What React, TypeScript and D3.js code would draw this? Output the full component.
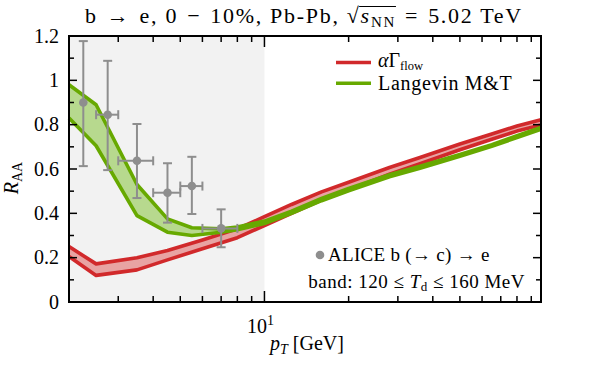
import { useEffect, useRef } from "react";
import * as d3 from "d3";

// alpha-Gamma_flow band (red)
const redPt = [2, 2.5, 3.5, 4.5, 6, 8, 10, 12.5, 16, 20, 28, 36, 50, 65, 80, 97.5];
const redHi = [0.25, 0.172, 0.2, 0.232, 0.28, 0.33, 0.385, 0.44, 0.497, 0.54, 0.607, 0.652, 0.713, 0.758, 0.794, 0.822];
const redLo = [0.205, 0.12, 0.145, 0.19, 0.24, 0.29, 0.345, 0.4, 0.46, 0.505, 0.577, 0.624, 0.687, 0.734, 0.771, 0.798];

// Langevin M&T band (green)
const grnPt = [2, 2.5, 3.5, 4.5, 5.5, 7, 8, 10, 12.5, 16, 20, 28, 36, 50, 65, 80, 97.5];
const grnHi = [0.98, 0.89, 0.53, 0.375, 0.335, 0.33, 0.338, 0.365, 0.41, 0.467, 0.512, 0.574, 0.612, 0.665, 0.71, 0.75, 0.787];
const grnLo = [0.83, 0.705, 0.39, 0.315, 0.3, 0.315, 0.326, 0.354, 0.4, 0.457, 0.502, 0.565, 0.603, 0.657, 0.702, 0.742, 0.779];

// ALICE b(->c)->e
const alicePt = [2.25, 2.75, 3.5, 4.5, 5.5, 7];
const alicePtLo = [2.25, 2.5, 3, 4, 5, 6];
const alicePtHi = [2.25, 3, 4, 5, 6, 8];
const aliceR = [0.9, 0.845, 0.637, 0.493, 0.523, 0.332];
const aliceHi = [1.177, 1.088, 0.803, 0.626, 0.655, 0.418];
const aliceLo = [0.613, 0.595, 0.469, 0.358, 0.397, 0.247];

const yTicks = [0, 0.2, 0.4, 0.6, 0.8, 1, 1.2];
const yTickLabels = ["0", "0.2", "0.4", "0.6", "0.8", "1", "1.2"];
const yMinor = [0.1, 0.3, 0.5, 0.7, 0.9, 1.1];
const xMinor = [3, 4, 5, 6, 7, 8, 9, 20, 30, 40, 50, 60, 70, 80, 90];
const xMajor = [10];

const RED = "#d1292b";
const PINK = "#e8a3a3";
const GREEN = "#67a900";
const LGREEN = "#b7d98e";
const GRAY = "#8e8e8e";
const FONT = "'Liberation Serif', serif";

export default function App() {
  const titleRef = useRef<SVGTextElement>(null);
  const barRef = useRef<SVGLineElement>(null);

  const left = 69, right = 541, top = 36, bottom = 302;
  const x = d3.scaleLog().domain([2, 97.5]).range([left, right]);
  const y = d3.scaleLinear().domain([0, 1.2]).range([bottom, top]);

  const band = (pt: number[], hi: number[], lo: number[]) => {
    const rows = pt.map((p, i) => ({ p, hi: hi[i], lo: lo[i] }));
    const area = d3.area<any>().x(d => x(d.p)).y0(d => y(d.lo)).y1(d => y(d.hi))(rows) || "";
    const lineHi = d3.line<any>().x(d => x(d.p)).y(d => y(d.hi))(rows) || "";
    const lineLo = d3.line<any>().x(d => x(d.p)).y(d => y(d.lo))(rows) || "";
    return { area, lineHi, lineLo };
  };
  const red = band(redPt, redHi, redLo);
  const grn = band(grnPt, grnHi, grnLo);

  const pre = "b\u2004→\u2004e, 0\u2004−\u200410%, Pb-Pb, ";

  useEffect(() => {
    const t = titleRef.current;
    const b = barRef.current;
    if (!t || !b) return;
    const i0 = pre.length;
    const s = t.getStartPositionOfChar(i0);
    const e0 = t.getEndPositionOfChar(i0);
    const e = t.getEndPositionOfChar(i0 + 3);
    d3.select(b)
      .attr("x1", e0.x - 1.5)
      .attr("x2", e.x)
      .attr("y1", s.y - 16.5)
      .attr("y2", s.y - 16.5);
  }, []);

  return (
    <svg width={604} height={365} style={{ position: "absolute", left: 0, top: 0, background: "#fff" }}>
      <g style={{ fontFamily: FONT }}>
      <rect x={0} y={0} width={604} height={365} fill="#fff" />
      <rect x={x(2)} y={top} width={x(10) - x(2)} height={bottom - top} fill="#f2f2f2" />

      {/* bands */}
      <path d={red.area} fill={PINK} />
      <path d={red.lineHi} fill="none" stroke={RED} strokeWidth={3.6} strokeLinejoin="round" />
      <path d={red.lineLo} fill="none" stroke={RED} strokeWidth={3.6} strokeLinejoin="round" />
      <path d={grn.area} fill={LGREEN} />
      <path d={grn.lineHi} fill="none" stroke={GREEN} strokeWidth={3.6} strokeLinejoin="round" />
      <path d={grn.lineLo} fill="none" stroke={GREEN} strokeWidth={3.6} strokeLinejoin="round" />

      {/* ALICE points */}
      {alicePt.map((p, i) => (
        <g key={i} stroke={GRAY} strokeWidth={2}>
          <line x1={x(p)} x2={x(p)} y1={y(aliceLo[i])} y2={y(aliceHi[i])} />
          <line x1={x(p) - 4.5} x2={x(p) + 4.5} y1={y(aliceLo[i])} y2={y(aliceLo[i])} />
          <line x1={x(p) - 4.5} x2={x(p) + 4.5} y1={y(aliceHi[i])} y2={y(aliceHi[i])} />
          {alicePtHi[i] > alicePtLo[i] && (
            <g>
              <line x1={x(alicePtLo[i])} x2={x(alicePtHi[i])} y1={y(aliceR[i])} y2={y(aliceR[i])} />
              <line x1={x(alicePtLo[i])} x2={x(alicePtLo[i])} y1={y(aliceR[i]) - 4.5} y2={y(aliceR[i]) + 4.5} />
              <line x1={x(alicePtHi[i])} x2={x(alicePtHi[i])} y1={y(aliceR[i]) - 4.5} y2={y(aliceR[i]) + 4.5} />
            </g>
          )}
          <circle cx={x(p)} cy={y(aliceR[i])} r={4.3} fill={GRAY} stroke="none" />
        </g>
      ))}

      {/* ticks */}
      <g stroke="#000" strokeWidth={1.5}>
        {yTicks.map(v => (
          <g key={"y" + v}>
            <line x1={left} x2={left + 8} y1={y(v)} y2={y(v)} />
            <line x1={right} x2={right - 8} y1={y(v)} y2={y(v)} />
          </g>
        ))}
        {yMinor.map(v => (
          <g key={"ym" + v}>
            <line x1={left} x2={left + 5} y1={y(v)} y2={y(v)} />
            <line x1={right} x2={right - 5} y1={y(v)} y2={y(v)} />
          </g>
        ))}
        {xMinor.map(v => (
          <g key={"xm" + v}>
            <line x1={x(v)} x2={x(v)} y1={bottom} y2={bottom - 6} />
            <line x1={x(v)} x2={x(v)} y1={top} y2={top + 6} />
          </g>
        ))}
        {xMajor.map(v => (
          <g key={"xM" + v}>
            <line x1={x(v)} x2={x(v)} y1={bottom} y2={bottom - 11} />
            <line x1={x(v)} x2={x(v)} y1={top} y2={top + 11} />
          </g>
        ))}
      </g>
      <rect x={left} y={top} width={right - left} height={bottom - top} fill="none" stroke="#000" strokeWidth={2} />

      {/* tick labels */}
      {yTicks.map((v, i) => (
        <text key={"yl" + v} x={left - 10} y={y(v) + 6.5} fontSize={20} textAnchor="end">{yTickLabels[i]}</text>
      ))}
      {xMajor.map(v => (
        <text key={"xl" + v} x={x(v) - 4} y={333} fontSize={20} textAnchor="middle">
          10<tspan fontSize={14} dy={-8}>1</tspan>
        </text>
      ))}

      {/* axis titles */}
      <text x={307} y={350} fontSize={20} textAnchor="middle">
        <tspan fontStyle="italic">p</tspan><tspan fontStyle="italic" fontSize={14} dy={4}>T</tspan>
        <tspan dy={-4}> [GeV]</tspan>
      </text>
      <text transform="translate(18,178) rotate(-90)" fontSize={20} textAnchor="middle">
        <tspan fontStyle="italic">R</tspan><tspan fontSize={14} dy={4}>AA</tspan>
      </text>

      {/* title */}
      <text ref={titleRef} x={304} y={23} fontSize={22} textAnchor="middle" letterSpacing={1.7}>
        {pre}√<tspan fontStyle="italic">s</tspan><tspan fontSize={15} dy={4}>NN</tspan>
        <tspan dy={-4}>{"\u2004=\u20045.02 TeV"}</tspan>
      </text>
      <line ref={barRef} stroke="#000" strokeWidth={1} />

      {/* legend */}
      <line x1={336} x2={371} y1={62.5} y2={62.5} stroke={RED} strokeWidth={3.6} />
      <text x={378} y={67} fontSize={20}>
        <tspan fontStyle="italic">α</tspan>Γ<tspan fontSize={12.5} dy={2.5}>flow</tspan>
      </text>
      <line x1={336} x2={371} y1={83.3} y2={83.3} stroke={GREEN} strokeWidth={3.6} />
      <text x={378} y={90} fontSize={20} letterSpacing={0.7}>Langevin M&amp;T</text>

      {/* annotations */}
      <circle cx={320} cy={255} r={4.3} fill={GRAY} />
      <text x={328} y={261} fontSize={19} letterSpacing={0.3}>ALICE b (→ c) → e</text>
      <text x={525} y={288} fontSize={19} textAnchor="end" letterSpacing={0.5}>
        band: 120 ≤ <tspan fontStyle="italic">T</tspan><tspan fontSize={13} dy={3}>d</tspan>
        <tspan dy={-3}> ≤ 160 MeV</tspan>
      </text>
      </g>
    </svg>
  );
}
